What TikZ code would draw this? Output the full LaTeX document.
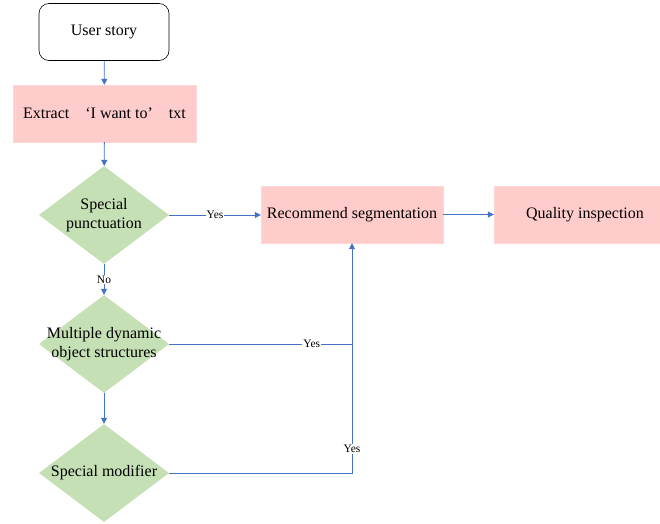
\documentclass[tikz,border=0pt]{standalone}
\usepackage{fontspec}
\setmainfont{Liberation Serif}
\usetikzlibrary{shapes.geometric,arrows.meta}
\definecolor{pinkbox}{HTML}{FFCCCC}
\definecolor{greenbox}{HTML}{C5E0B4}
\definecolor{arrowblue}{HTML}{4472C4}
\begin{document}
\begin{tikzpicture}[x=1pt,y=-1pt,
  every node/.style={font=\fontsize{16}{19}\selectfont},
  startbox/.style={draw=black,rounded corners=10pt,minimum width=130pt,minimum height=57pt,fill=white,line width=0.6pt},
  procbox/.style={fill=pinkbox,draw=pinkbox!80!white,minimum height=57pt},
  decision/.style={diamond,fill=greenbox,minimum width=130pt,minimum height=98pt,inner sep=0pt,aspect=1.33},
  dtext/.style={align=center,font=\fontsize{16}{19}\selectfont},
  conn/.style={draw=arrowblue,line width=0.8pt},
  arr/.style={conn,-{Triangle[length=6pt,width=6pt]}},
  lab/.style={font=\fontsize{11.5}{12}\selectfont,fill=white,inner sep=1pt}
]
\useasboundingbox (0,0) rectangle (660,523);
\node[startbox] (us) at (104,32) {User story};
\node[procbox,minimum width=183pt] (ex) at (104.5,113.5) {Extract\quad‘I want to’\quad txt};
\node[decision,label={[dtext]center:Special\\punctuation}] (d1) at (104,215) {};
\node[procbox,minimum width=182pt] (rec) at (352,214.5) {Recommend segmentation};
\node[procbox,minimum width=166pt] (qi) at (577,214.5) {\hspace*{16pt}Quality inspection};
\node[decision,label={[dtext]center:Multiple dynamic\\object structures}] (d2) at (104,344) {};
\node[decision,label={[dtext]center:Special modifier}] (d3) at (104,473) {};
\coordinate (j1) at (rec.south |- d2.east);

\draw[arr] (us) -- (ex);
\draw[arr] (ex) -- (d1);
\draw[arr] (d1.east) -- node[lab]{Yes} (rec.west |- d1.east);
\draw[arr] (rec) -- (qi);
\draw[arr] (d1) -- node[lab]{No} (d2);
\draw[arr] (d2) -- (d3);
\draw[conn] (d2.east) -- node[lab,pos=0.78]{Yes} (j1);
\draw[conn] (d3.east) -| node[lab,pos=0.593]{Yes} (j1);
\draw[arr] (j1) -- (rec.south);
\end{tikzpicture}
\end{document}
